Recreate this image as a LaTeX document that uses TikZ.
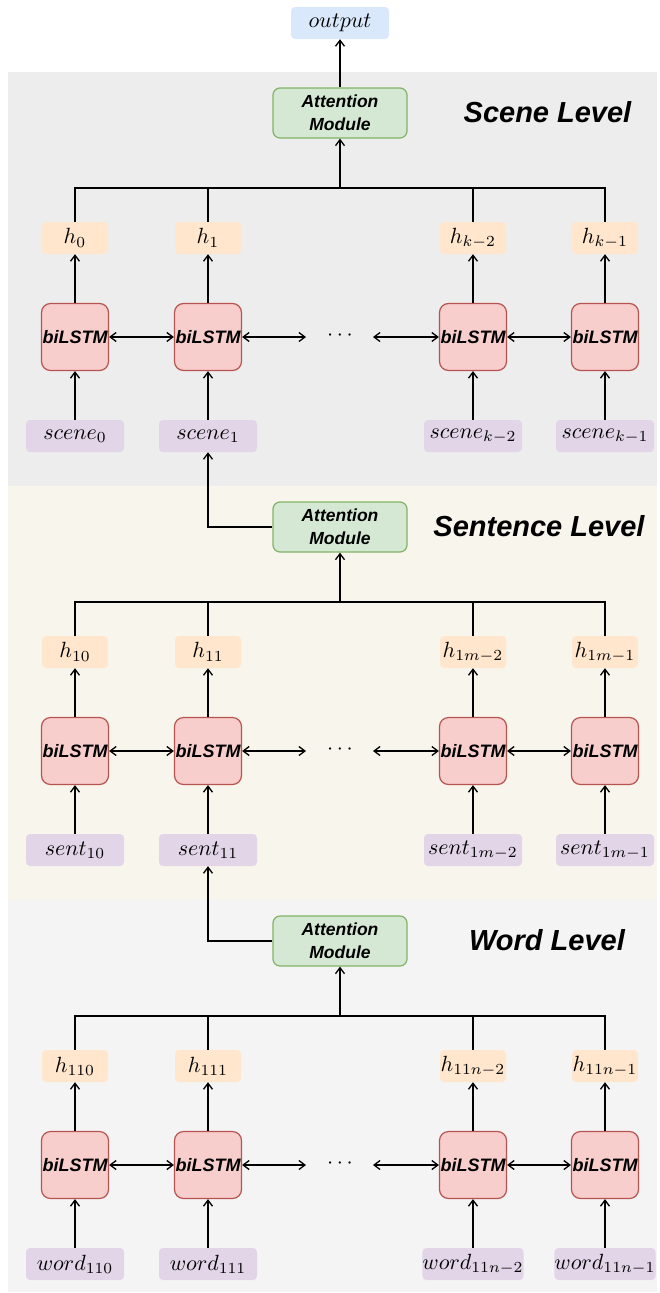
\documentclass[tikz,border=0pt]{standalone}
\usepackage[no-math]{fontspec}
\newfontfamily\lsans{Liberation Sans}
\usetikzlibrary{arrows.meta}

% math labels at a size of about 22pt
\newcommand\mlab[1]{\scalebox{2.2}{$#1$}}

\definecolor{bandScene}{HTML}{EDEDED}
\definecolor{bandSent}{HTML}{F8F5EC}
\definecolor{bandWord}{HTML}{F4F4F4}
\definecolor{lstmFill}{HTML}{F8CECC}
\definecolor{lstmLine}{HTML}{B85450}
\definecolor{attFill}{HTML}{D5E8D4}
\definecolor{attLine}{HTML}{82B366}
\definecolor{hFill}{HTML}{FFE6CC}
\definecolor{inFill}{HTML}{E1D5E7}
\definecolor{outFill}{HTML}{DAE8FC}

\tikzset{
  tip/.tip={Straight Barb[length=6pt,width=9pt]},
  arr/.style={-tip, line width=1.3pt},
  darr/.style={tip-tip, line width=1.3pt},
  wire/.style={line width=1.3pt},
  lstm/.style={draw=lstmLine, fill=lstmFill, line width=1.2pt, rounded corners=9pt,
    minimum width=67pt, minimum height=67pt, inner sep=0pt,
    font=\lsans\bfseries\itshape\fontsize{18}{20}\selectfont},
  attn/.style={draw=attLine, fill=attFill, line width=1.2pt, rounded corners=7pt,
    minimum width=134pt, minimum height=50pt, inner sep=0pt, align=center,
    font=\lsans\bfseries\itshape\fontsize{17.5}{23}\selectfont},
  hbox/.style={fill=hFill, rounded corners=4pt, minimum width=66pt, minimum height=32pt,
    inner sep=0pt},
  inbox/.style={fill=inFill, rounded corners=4pt, minimum width=98pt, minimum height=32pt,
    inner sep=0pt},
  outbox/.style={fill=outFill, rounded corners=4pt, minimum width=98pt, minimum height=32pt,
    inner sep=0pt},
  lvl/.style={anchor=base, inner sep=0pt, font=\lsans\bfseries\itshape\fontsize{29}{34}\selectfont},
  dotsnode/.style={inner sep=0pt},
}

\begin{document}
\begin{tikzpicture}[x=1pt,y=-1pt]
\useasboundingbox (0,0) rectangle (659,1293);

% level backgrounds
\fill[bandScene] (8,72) rectangle (657,486);
\fill[bandSent]  (8,486) rectangle (657,900);
\fill[bandWord]  (8,900) rectangle (657,1292);

% ---------------- scene level ----------------
\node[outbox] (out) at (340,23) {\mlab{output}};
\node[attn] (attA) at (340,113) {Attention\\Module};
\node[lvl] (lvA) at (547.5,122) {Scene Level};
\coordinate (busA) at (340,188);

\node[hbox] (hA0) at (75,238)  {\mlab{h_0}};
\node[hbox] (hA1) at (208,238) {\mlab{h_1}};
\node[hbox] (hA2) at (473,238) {\mlab{h_{k-2}}};
\node[hbox] (hA3) at (605,238) {\mlab{h_{k-1}}};

\node[lstm] (lA0) at (75,337)  {biLSTM};
\node[lstm] (lA1) at (208,337) {biLSTM};
\node[lstm] (lA2) at (473,337) {biLSTM};
\node[lstm] (lA3) at (605,337) {biLSTM};
\node[dotsnode] (dA) at (340,336) {\mlab{\cdots}};
\coordinate (dAl) at (306,337);
\coordinate (dAr) at (373,337);

\node[inbox] (iA0) at (75,436)  {\mlab{scene_0}};
\node[inbox] (iA1) at (208,436) {\mlab{scene_1}};
\node[inbox] (iA2) at (473,436) {\mlab{scene_{k-2}}};
\node[inbox] (iA3) at (605,436) {\mlab{scene_{k-1}}};

\draw[arr] (attA) -- (out);
\draw[wire] (hA0.north) |- (busA) -| (hA3.north);
\draw[wire] (hA1.north) -- (hA1.north |- busA);
\draw[wire] (hA2.north) -- (hA2.north |- busA);
\draw[arr] (busA) -- (attA.south);
\foreach \c in {0,1,2,3}{
  \draw[arr] (lA\c) -- (hA\c);
  \draw[arr] (iA\c) -- (lA\c);
}
\draw[darr] (lA0) -- (lA1);
\draw[darr] (lA1) -- (dAl);
\draw[darr] (dAr) -- (lA2);
\draw[darr] (lA2) -- (lA3);

% ---------------- sentence level ----------------
\node[attn] (attB) at (340,527) {Attention\\Module};
\node[lvl] (lvB) at (539,536) {Sentence Level};
\coordinate (busB) at (340,602);

\node[hbox] (hB0) at (75,652)  {\mlab{h_{10}}};
\node[hbox] (hB1) at (208,652) {\mlab{h_{11}}};
\node[hbox] (hB2) at (473,652) {\mlab{h_{1m-2}}};
\node[hbox] (hB3) at (605,652) {\mlab{h_{1m-1}}};

\node[lstm] (lB0) at (75,751)  {biLSTM};
\node[lstm] (lB1) at (208,751) {biLSTM};
\node[lstm] (lB2) at (473,751) {biLSTM};
\node[lstm] (lB3) at (605,751) {biLSTM};
\node[dotsnode] (dB) at (340,750) {\mlab{\cdots}};
\coordinate (dBl) at (306,751);
\coordinate (dBr) at (373,751);

\node[inbox] (iB0) at (75,850)  {\mlab{sent_{10}}};
\node[inbox] (iB1) at (208,850) {\mlab{sent_{11}}};
\node[inbox] (iB2) at (473,850) {\mlab{sent_{1m-2}}};
\node[inbox] (iB3) at (605,850) {\mlab{sent_{1m-1}}};

\draw[arr] (attB.west) -| (iA1.south);
\draw[wire] (hB0.north) |- (busB) -| (hB3.north);
\draw[wire] (hB1.north) -- (hB1.north |- busB);
\draw[wire] (hB2.north) -- (hB2.north |- busB);
\draw[arr] (busB) -- (attB.south);
\foreach \c in {0,1,2,3}{
  \draw[arr] (lB\c) -- (hB\c);
  \draw[arr] (iB\c) -- (lB\c);
}
\draw[darr] (lB0) -- (lB1);
\draw[darr] (lB1) -- (dBl);
\draw[darr] (dBr) -- (lB2);
\draw[darr] (lB2) -- (lB3);

% ---------------- word level ----------------
\node[attn] (attC) at (340,941) {Attention\\Module};
\node[lvl] (lvC) at (547,950) {Word Level};
\coordinate (busC) at (340,1016);

\node[hbox] (hC0) at (75,1066)  {\mlab{h_{110}}};
\node[hbox] (hC1) at (208,1066) {\mlab{h_{111}}};
\node[hbox] (hC2) at (473,1066) {\mlab{h_{11n-2}}};
\node[hbox] (hC3) at (605,1066) {\mlab{h_{11n-1}}};

\node[lstm] (lC0) at (75,1165)  {biLSTM};
\node[lstm] (lC1) at (208,1165) {biLSTM};
\node[lstm] (lC2) at (473,1165) {biLSTM};
\node[lstm] (lC3) at (605,1165) {biLSTM};
\node[dotsnode] (dC) at (340,1164) {\mlab{\cdots}};
\coordinate (dCl) at (306,1165);
\coordinate (dCr) at (373,1165);

\node[inbox] (iC0) at (75,1264)  {\mlab{word_{110}}};
\node[inbox] (iC1) at (208,1264) {\mlab{word_{111}}};
\node[inbox] (iC2) at (473,1264) {\mlab{word_{11n-2}}};
\node[inbox] (iC3) at (605,1264) {\mlab{word_{11n-1}}};

\draw[arr] (attC.west) -| (iB1.south);
\draw[wire] (hC0.north) |- (busC) -| (hC3.north);
\draw[wire] (hC1.north) -- (hC1.north |- busC);
\draw[wire] (hC2.north) -- (hC2.north |- busC);
\draw[arr] (busC) -- (attC.south);
\foreach \c in {0,1,2,3}{
  \draw[arr] (lC\c) -- (hC\c);
  \draw[arr] (iC\c) -- (lC\c);
}
\draw[darr] (lC0) -- (lC1);
\draw[darr] (lC1) -- (dCl);
\draw[darr] (dCr) -- (lC2);
\draw[darr] (lC2) -- (lC3);
\end{tikzpicture}
\end{document}
